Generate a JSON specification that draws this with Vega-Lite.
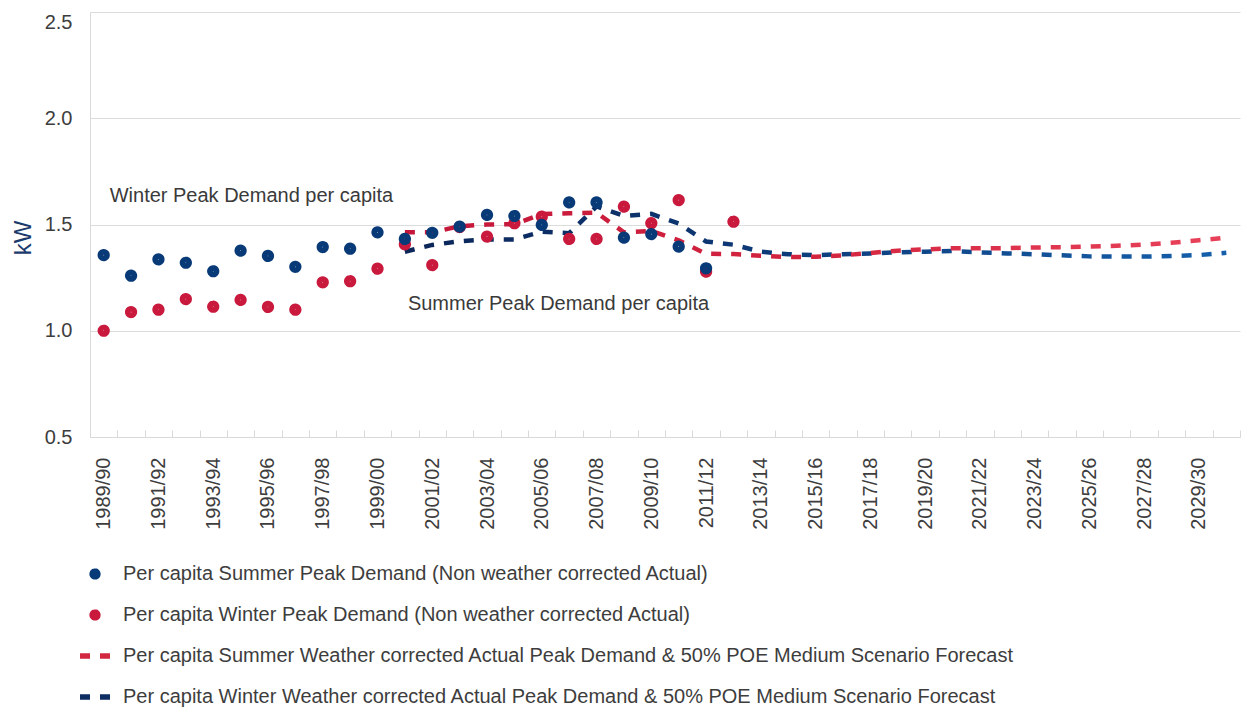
{
  "$schema": "https://vega.github.io/schema/vega-lite/v6.json",
  "width": 1150,
  "height": 425,
  "autosize": {"type": "none"},
  "padding": {"left": 90, "top": 12, "right": 1, "bottom": 272},
  "config": {"view": {"stroke": null}, "font": "Liberation Sans"},
  "data": {"values": [
    {"cat": "1989/90", "sa": 1.356, "wa": 1.000},
    {"cat": "1990/91", "sa": 1.259, "wa": 1.088},
    {"cat": "1991/92", "sa": 1.336, "wa": 1.099},
    {"cat": "1992/93", "sa": 1.320, "wa": 1.149},
    {"cat": "1993/94", "sa": 1.280, "wa": 1.113},
    {"cat": "1994/95", "sa": 1.377, "wa": 1.145},
    {"cat": "1995/96", "sa": 1.352, "wa": 1.112},
    {"cat": "1996/97", "sa": 1.301, "wa": 1.099},
    {"cat": "1997/98", "sa": 1.394, "wa": 1.228},
    {"cat": "1998/99", "sa": 1.386, "wa": 1.233},
    {"cat": "1999/00", "sa": 1.463, "wa": 1.292},
    {"cat": "2000/01", "sa": 1.432, "wa": 1.407, "sf": 1.463, "wf": 1.372},
    {"cat": "2001/02", "sa": 1.461, "wa": 1.309, "sf": 1.463, "wf": 1.404},
    {"cat": "2002/03", "sa": 1.490, "wa": 1.488, "sf": 1.492, "wf": 1.421},
    {"cat": "2003/04", "sa": 1.545, "wa": 1.443, "sf": 1.500, "wf": 1.430},
    {"cat": "2004/05", "sa": 1.540, "wa": 1.506, "sf": 1.501, "wf": 1.430},
    {"cat": "2005/06", "sa": 1.498, "wa": 1.537, "sf": 1.549, "wf": 1.466},
    {"cat": "2006/07", "sa": 1.604, "wa": 1.432, "sf": 1.553, "wf": 1.459},
    {"cat": "2007/08", "sa": 1.604, "wa": 1.432, "sf": 1.556, "wf": 1.585},
    {"cat": "2008/09", "sa": 1.438, "wa": 1.584, "sf": 1.463, "wf": 1.540},
    {"cat": "2009/10", "sa": 1.455, "wa": 1.506, "sf": 1.470, "wf": 1.550},
    {"cat": "2010/11", "sa": 1.396, "wa": 1.615, "sf": 1.425, "wf": 1.505},
    {"cat": "2011/12", "sa": 1.294, "wa": 1.278, "sf": 1.362, "wf": 1.420},
    {"cat": "2012/13", "wa": 1.513, "sf": 1.361, "wf": 1.405},
    {"cat": "2013/14", "sf": 1.353, "wf": 1.372},
    {"cat": "2014/15", "sf": 1.347, "wf": 1.360},
    {"cat": "2015/16", "sf": 1.348, "wf": 1.356},
    {"cat": "2016/17", "sf": 1.355, "wf": 1.360},
    {"cat": "2017/18", "sf": 1.366, "wf": 1.364},
    {"cat": "2018/19", "sf": 1.377, "wf": 1.369},
    {"cat": "2019/20", "sf": 1.383, "wf": 1.372},
    {"cat": "2020/21", "sf": 1.388, "wf": 1.375},
    {"cat": "2021/22", "sf": 1.388, "wf": 1.369},
    {"cat": "2022/23", "sf": 1.389, "wf": 1.364},
    {"cat": "2023/24", "sf": 1.392, "wf": 1.360},
    {"cat": "2024/25", "sf": 1.393, "wf": 1.355},
    {"cat": "2025/26", "sf": 1.396, "wf": 1.350},
    {"cat": "2026/27", "sf": 1.400, "wf": 1.349},
    {"cat": "2027/28", "sf": 1.405, "wf": 1.349},
    {"cat": "2028/29", "sf": 1.414, "wf": 1.352},
    {"cat": "2029/30", "sf": 1.426, "wf": 1.356},
    {"cat": "2030/31", "sf": 1.438, "wf": 1.367}
  ]},
  "encoding": {
    "x": {
      "field": "cat", "type": "ordinal",
      "scale": {"paddingInner": 0, "paddingOuter": 0},
      "axis": {
        "title": null, "labelAngle": -90, "labelFontSize": 20, "labelColor": "#3d3d3d",
        "labelExpr": "toNumber(slice(datum.label, 0, 4)) % 2 == 1 ? datum.label : ''",
        "domainColor": "#d9d9d9", "tickColor": "#d9d9d9", "tickSize": -7, "tickBand": "extent",
        "labelPadding": 27, "grid": false
      }
    }
  },
  "layer": [
    {
      "mark": {"type": "line", "strokeWidth": 4.5, "strokeDash": [10, 10],
        "stroke": {"gradient": "linear", "x1": 0, "y1": 0, "x2": 1, "y2": 0,
          "stops": [{"offset": 0, "color": "#0b2658"}, {"offset": 0.45, "color": "#0d3a78"}, {"offset": 1, "color": "#1560ac"}]}},
      "encoding": {"y": {"field": "wf", "type": "quantitative"}}
    },
    {
      "mark": {"type": "line", "strokeWidth": 4.5, "strokeDash": [10, 10],
        "stroke": {"gradient": "linear", "x1": 0, "y1": 0, "x2": 1, "y2": 0,
          "stops": [{"offset": 0, "color": "#c3163a"}, {"offset": 0.5, "color": "#d4253f"}, {"offset": 1, "color": "#e8425a"}]}},
      "encoding": {"y": {"field": "sf", "type": "quantitative"}}
    },
    {
      "transform": [{"fold": ["wa", "sa"], "as": ["series", "kw"]}],
      "mark": {"type": "point", "filled": false, "strokeWidth": 6.5, "opacity": 1},
      "encoding": {
        "y": {
          "field": "kw", "type": "quantitative",
          "scale": {"domain": [0.5, 2.5], "nice": false, "zero": false},
          "axis": {
            "title": "kW", "values": [0.5, 1, 1.5, 2, 2.5], "format": ".1f", "ticks": false,
            "labelPadding": 18, "labelFontSize": 20, "labelColor": "#3d3d3d",
            "labelBaseline": {"condition": {"test": "datum.value == 2.5", "value": "top"}, "value": "middle"},
            "domainColor": "#d9d9d9", "gridColor": "#dcdcdc",
            "titleColor": "#1c3b6d", "titleFontSize": 24, "titleFontWeight": "normal",
            "titleX": -60, "titleY": 225.5, "titleAngle": -90, "titleBaseline": "alphabetic", "titleAlign": "center"
          }
        },
        "color": {
          "field": "series", "type": "nominal",
          "scale": {"domain": ["sa", "wa", "sf", "wf"], "range": ["#083a78", "#c9193d", "#d2283f", "#0e2d62"]},
          "legend": {
            "title": null, "orient": "none", "legendX": -13, "legendY": 550,
            "direction": "vertical", "columns": 1,
            "clipHeight": 24, "symbolStrokeWidth": 5.5,
            "labelOffset": 10, "rowPadding": 17, "labelLimit": 1100,
            "labelFontSize": 20, "labelColor": "#3d3d3d",
            "labelExpr": "datum.value == 'sa' ? 'Per capita Summer Peak Demand (Non weather corrected Actual)' : datum.value == 'wa' ? 'Per capita Winter Peak Demand (Non weather corrected Actual)' : datum.value == 'sf' ? 'Per capita Summer Weather corrected Actual Peak Demand & 50% POE Medium Scenario Forecast' : 'Per capita Winter Weather corrected Actual Peak Demand & 50% POE Medium Scenario Forecast'"
          }
        },
        "shape": {
          "field": "series", "type": "nominal",
          "scale": {"domain": ["sa", "wa", "sf", "wf"], "range": ["circle", "circle", "stroke", "stroke"]}
        },
        "size": {
          "field": "series", "type": "ordinal",
          "scale": {"type": "ordinal", "domain": ["sa", "wa", "sf", "wf"], "range": [33, 33, 900, 900]}
        },
        "strokeDash": {
          "field": "series", "type": "nominal",
          "scale": {"domain": ["sa", "wa", "sf", "wf"], "range": [[1, 0], [1, 0], [10, 10], [10, 10]]}
        }
      }
    },
    {
      "data": {"values": [{"cat": "1989/90", "kw": 1.604, "label": "Winter Peak Demand per capita"}]},
      "mark": {"type": "text", "align": "left", "baseline": "alphabetic", "dx": 6, "fontSize": 20, "color": "#3a3a3a"},
      "encoding": {"y": {"field": "kw", "type": "quantitative"}, "text": {"field": "label"}}
    },
    {
      "data": {"values": [{"cat": "2000/01", "kw": 1.098, "label": "Summer Peak Demand per capita"}]},
      "mark": {"type": "text", "align": "left", "baseline": "alphabetic", "dx": 3, "fontSize": 20, "color": "#3a3a3a"},
      "encoding": {"y": {"field": "kw", "type": "quantitative"}, "text": {"field": "label"}}
    }
  ]
}
